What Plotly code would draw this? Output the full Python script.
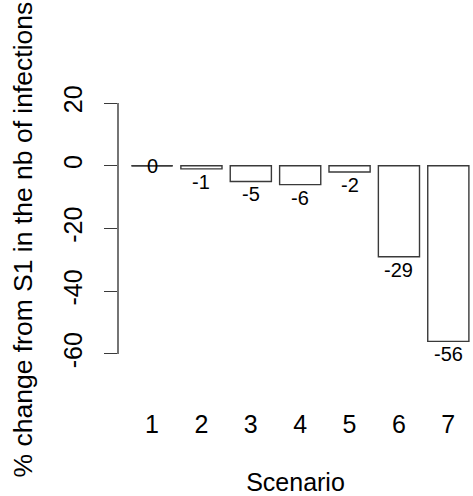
import plotly.graph_objects as go

scenarios = ["1", "2", "3", "4", "5", "6", "7"]
pct_change = [0, -1, -5, -6, -2, -29, -56]
y_ticks = [20, 0, -20, -40, -60]
x_title = "Scenario"
y_title = "% change from S1 in the nb of infections"

FONT = "Liberation Sans, Arial, sans-serif"
LINE = "#3a3a3a"
BARFRAC = 1 / 1.2  # R barplot width=1, space=0.2

fig = go.Figure()
fig.add_trace(go.Bar(
    x=scenarios, y=pct_change,
    marker=dict(color="white", line=dict(color=LINE, width=1.4)),
    width=BARFRAC, showlegend=False, hoverinfo="skip",
))

shapes = []
# zero-height bars are drawn as a flat line (plotly hides zero bars)
for i, v in enumerate(pct_change):
    if v == 0:
        shapes.append(dict(type="line", xref="x", yref="y",
                           x0=i - BARFRAC / 2, x1=i + BARFRAC / 2, y0=v, y1=v,
                           line=dict(color=LINE, width=1.4)))
# R-style y axis line spanning first to last tick
shapes.append(dict(type="line", xref="paper", yref="y", x0=0, x1=0,
                   y0=min(y_ticks), y1=max(y_ticks),
                   line=dict(color=LINE, width=1.4)))

annotations = []
for i, v in enumerate(pct_change):
    annotations.append(dict(x=i, y=v, xref="x", yref="y", text=str(v),
                            showarrow=False, yshift=(-13 if v < 0 else 0),
                            font=dict(family=FONT, size=20, color="black")))
# y axis title (R-style placement)
annotations.append(dict(x=0, y=0.5, xref="paper", yref="paper", text=y_title,
                        textangle=-90, showarrow=False, xanchor="center",
                        yanchor="middle", xshift=-96, yshift=-11,
                        font=dict(family=FONT, size=26.5, color="black")))

fig.update_layout(
    width=473, height=496,
    margin=dict(l=118, r=0, t=93, b=132, pad=0),
    paper_bgcolor="white", plot_bgcolor="white",
    shapes=shapes, annotations=annotations,
    font=dict(family=FONT, size=25, color="black"),
    xaxis=dict(
        type="category", range=[-0.69, 6.5], showgrid=False, zeroline=False,
        showline=False, ticks="", tickfont=dict(size=25, color="black"),
        ticklabelstandoff=43,
        title=dict(text=x_title, standoff=36, font=dict(size=25, color="black")),
    ),
    yaxis=dict(
        range=[-63.2, 23.2], tickvals=y_ticks, ticktext=[str(t) for t in y_ticks],
        showgrid=False, zeroline=False, showline=False,
        ticks="outside", ticklen=13, tickwidth=1.4, tickcolor=LINE,
        tickangle=-90, tickfont=dict(size=25, color="black"),
        ticklabelstandoff=12,
    ),
)

fig.write_html("out.html")
